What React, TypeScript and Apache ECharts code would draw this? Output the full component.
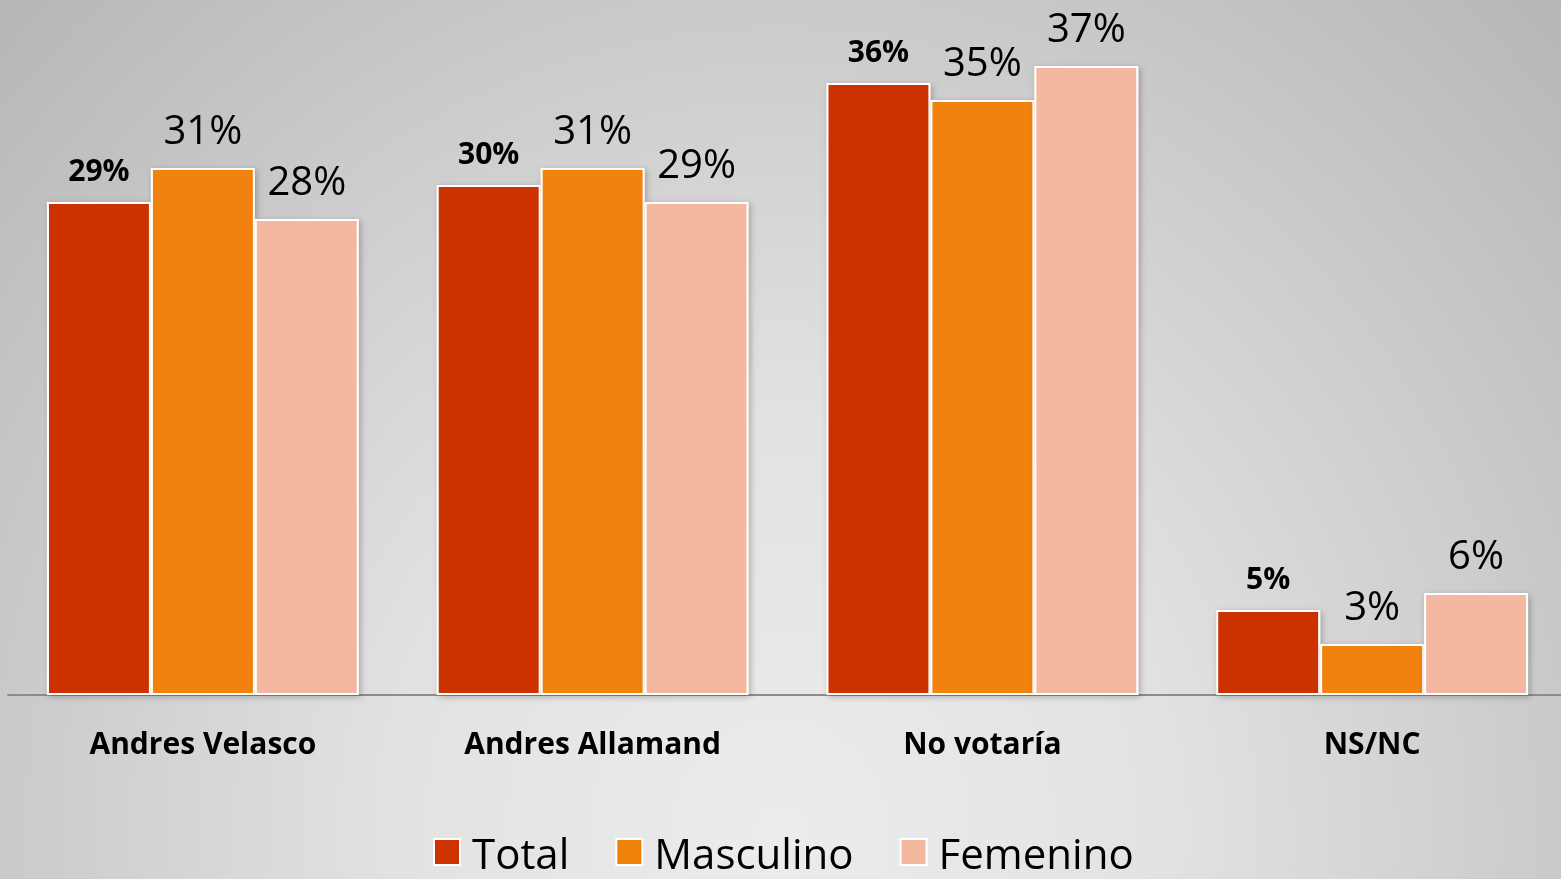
import React, { useEffect, useRef } from "react";
import * as echarts from "echarts";

const categories = ["Andres Velasco", "Andres Allamand", "No votaría", "NS/NC"];
const totalValues = [29, 30, 36, 5];
const masculinoValues = [31, 31, 35, 3];
const femeninoValues = [28, 29, 37, 6];
const seriesNames = ["Total", "Masculino", "Femenino"];
const seriesColors = ["#CC3300", "#F0820B", "#F4B8A0"];

const FONT = "'Open Sans', 'Liberation Sans', sans-serif";

export default function App() {
  const ref = useRef<HTMLDivElement>(null);

  useEffect(() => {
    if (!ref.current) return;
    const chart = echarts.init(ref.current, undefined, { renderer: "svg" });
    const values = [totalValues, masculinoValues, femeninoValues];
    const series = values.map((data, i) => ({
      name: seriesNames[i],
      type: "bar" as const,
      data,
      barGap: "0%",
      barCategoryGap: "20%",
      itemStyle: {
        color: seriesColors[i],
        borderColor: "#ffffff",
        borderWidth: 2,
        shadowBlur: 6,
        shadowColor: "rgba(0,0,0,0.25)",
        shadowOffsetX: 2,
        shadowOffsetY: 2,
      },
      label: {
        show: true,
        position: "top" as const,
        distance: i === 0 ? 18 : 20,
        formatter: "{c}%",
        color: "#000000",
        fontFamily: FONT,
        fontSize: i === 0 ? 30 : 40,
        fontWeight: i === 0 ? ("bold" as const) : ("normal" as const),
      },
    }));

    chart.setOption({
      animation: false,
      backgroundColor: "transparent",
      textStyle: { fontFamily: FONT },
      grid: { left: 8, right: 0, top: 15, bottom: 184, containLabel: false },
      legend: {
        data: seriesNames,
        left: 428,
        top: 826,
        padding: 5,
        itemWidth: 26,
        itemHeight: 26,
        itemGap: 46,
        icon: "rect",
        textStyle: {
          fontFamily: FONT,
          fontSize: 42,
          lineHeight: 40,
          color: "#000000",
          padding: [0, 0, 0, 7],
        },
      },
      xAxis: {
        type: "category",
        data: categories,
        axisLine: { show: true, lineStyle: { color: "#8c8c8c", width: 2 } },
        axisTick: { show: false },
        axisLabel: {
          fontFamily: FONT,
          fontSize: 30,
          fontWeight: "bold",
          color: "#000000",
          margin: 32,
        },
      },
      yAxis: {
        type: "value",
        min: 0,
        max: 40,
        show: false,
        splitLine: { show: false },
      },
      series,
    });
    return () => chart.dispose();
  }, []);

  return (
    <div
      style={{
        position: "fixed",
        left: 0,
        top: 0,
        width: 1561,
        height: 879,
        overflow: "hidden",
        background: "radial-gradient(ellipse at 50% 95%, #ececec 0%, #e2e2e2 35%, #b6b6b6 100%)",
      }}
    >
      <div ref={ref} style={{ width: 1567, height: 879 }} />
    </div>
  );
}
